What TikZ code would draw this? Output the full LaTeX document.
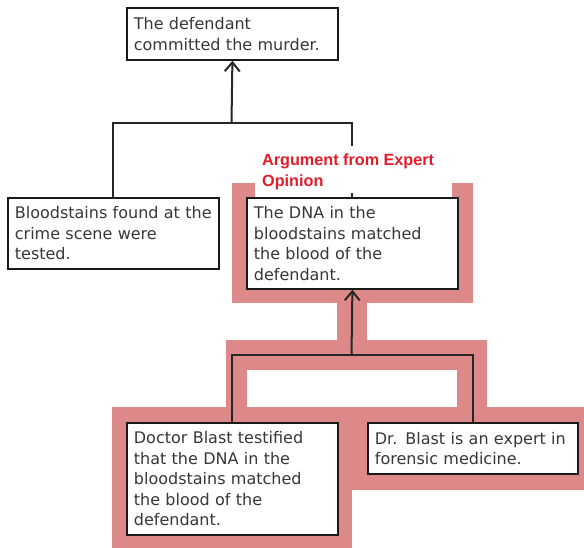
\documentclass[tikz,border=0pt]{standalone}
\usepackage{fontspec}
\setmainfont{DejaVu Sans}[WordSpace=1.7]
\newfontfamily\labelfont{Liberation Sans}
\usetikzlibrary{arrows.meta}
\definecolor{band}{RGB}{222,137,137}
\definecolor{inkgray}{RGB}{55,55,55}
\definecolor{labelred}{RGB}{226,28,40}

\begin{document}
\begin{tikzpicture}[x=1pt,y=-1pt,
  claim/.style={draw=black!90, line width=1.8pt, fill=white, text=inkgray,
    align=left, anchor=north west, inner xsep=7pt, inner ysep=0pt,
    font=\fontsize{16}{20.5}\selectfont},
  link/.style={line width=2pt, draw=black!85},
  tip/.style={-{Straight Barb[length=9pt,width=15pt]}},
]
\useasboundingbox (0,0) rectangle (584,548);

% pink band marking the expert-opinion argument
\fill[band] (232,183) rectangle (473,303);
\fill[white] (255,183) rectangle (452,197);
\fill[band] (337,303) rectangle (367,340);
\fill[band] (226,340) rectangle (487,407);
\fill[white] (247,370) rectangle (457,407);
\fill[band] (112,407) rectangle (584,490);
\fill[band] (112,490) rectangle (352,548);

% statements
\node[claim, text width=197pt, minimum height=52pt] (goal) at (126,7)
  {The defendant\\committed the murder.};
\node[claim, text width=197pt, minimum height=71pt] (stains) at (7,197)
  {Bloodstains found at the\\crime scene were\\tested.};
\node[claim, text width=197pt, minimum height=91pt] (dna) at (246,197)
  {The DNA in the\\bloodstains matched\\the blood of the\\defendant.};
\node[claim, text width=197pt, minimum height=112pt] (doctor) at (126,422)
  {Doctor Blast testified\\that the DNA in the\\bloodstains matched\\the blood of the\\defendant.};
\node[claim, text width=196pt, minimum height=51pt] (expert) at (367,422)
  {Dr. Blast is an expert in\\forensic medicine.};

% upper argument
\coordinate (j1) at (231.5,123);
\draw[link] (stains.north) |- (j1) -| (dna.north);
\draw[link, tip] (j1) -- (goal.south);

% lower argument
\coordinate (j2) at (351.5,355);
\draw[link] (doctor.north) |- (j2) -| (expert.north);
\draw[link, tip] (j2) -- (dna.south);

% scheme label on a white ground that hides the link behind it
\fill[white] (257,146) rectangle (450,193);
\node[anchor=north west, inner sep=0pt, text=labelred, align=left,
  font=\labelfont\bfseries\fontsize{16.2}{21}\selectfont]
  (scheme) at (262,154) {Argument from Expert\\Opinion};
\end{tikzpicture}
\end{document}
